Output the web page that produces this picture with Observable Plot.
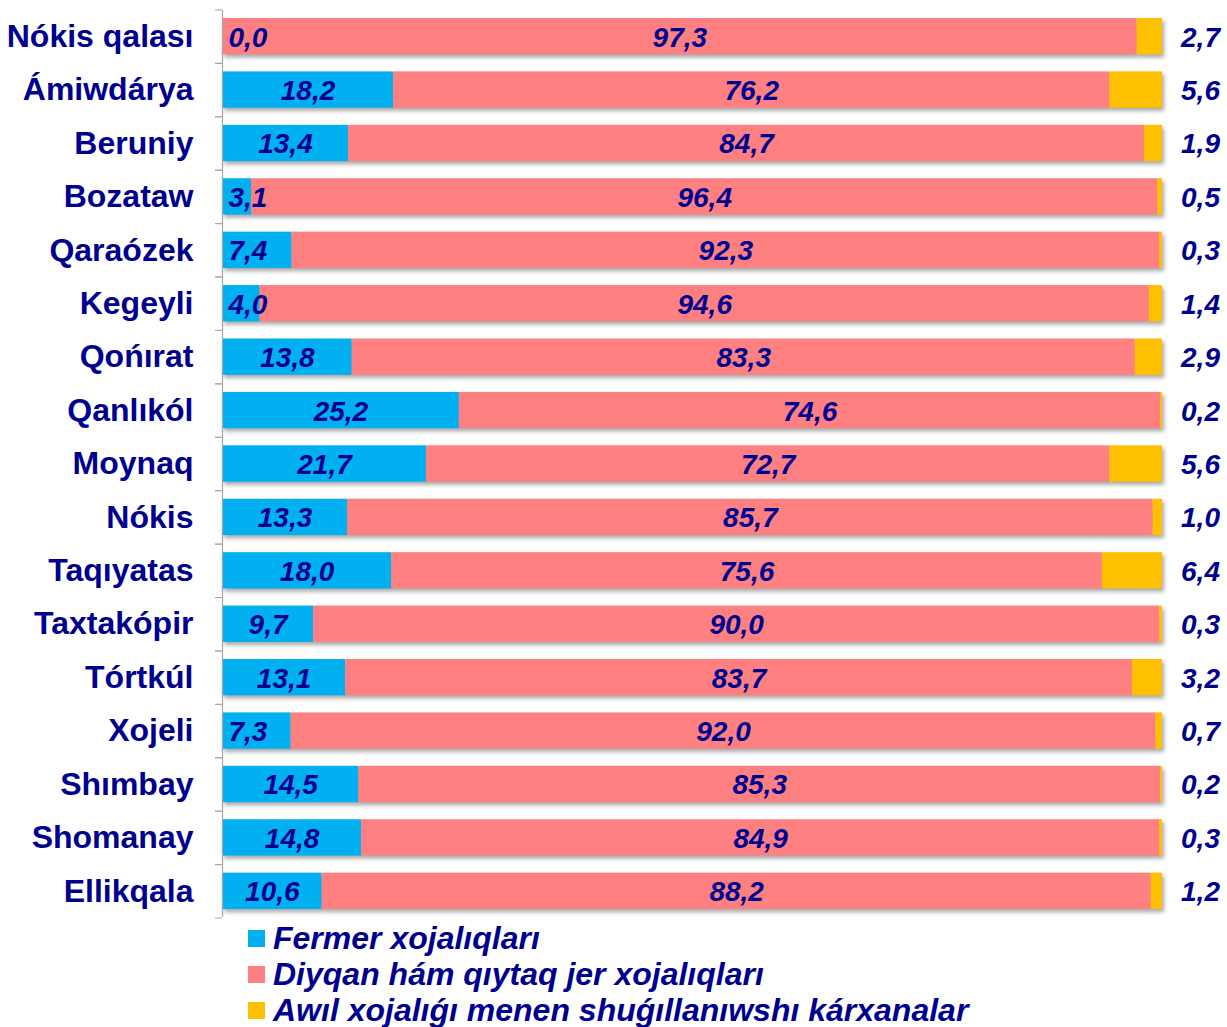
<!DOCTYPE html>
<html><head><meta charset="utf-8">
<script src="https://cdn.jsdelivr.net/npm/d3@7"></script>
<script src="https://cdn.jsdelivr.net/npm/@observablehq/plot@0.6"></script>
<style>
body{margin:0;background:#fff;font-family:"Liberation Sans",Arial,sans-serif;overflow:hidden;}
#chart svg{display:block;}
#legend{margin-left:248px;margin-top:-5px;}
.item{display:flex;align-items:center;height:36px;font:italic bold 32px "Liberation Sans",Arial,sans-serif;color:#000090;white-space:nowrap;}
.sw{width:17px;height:17px;margin-right:8px;flex:none;}
</style></head><body><div id="chart"></div><div id="legend"></div>
<script>
const categories = ["Nókis qalası","Ámiwdárya","Beruniy","Bozataw","Qaraózek","Kegeyli","Qońırat","Qanlıkól","Moynaq","Nókis","Taqıyatas","Taxtakópir","Tórtkúl","Xojeli","Shımbay","Shomanay","Ellikqala"];
const fermer = [0.0,18.2,13.4,3.1,7.4,4.0,13.8,25.2,21.7,13.3,18.0,9.7,13.1,7.3,14.5,14.8,10.6];
const diyqan = [97.3,76.2,84.7,96.4,92.3,94.6,83.3,74.6,72.7,85.7,75.6,90.0,83.7,92.0,85.3,84.9,88.2];
const awil   = [2.7,5.6,1.9,0.5,0.3,1.4,2.9,0.2,5.6,1.0,6.4,0.3,3.2,0.7,0.2,0.3,1.2];
const seriesNames = ["Fermer xojalıqları","Diyqan hám qıytaq jer xojalıqları","Awıl xojalıǵı menen shuǵıllanıwshı kárxanalar"];
const colors = ["#00B0F0","#FF8080","#FFC000"];

const seriesVals = [fermer, diyqan, awil];
const rows = [];
categories.forEach((c,i)=>{
  let x1 = 0;
  seriesVals.forEach((vals,s)=>{
    rows.push({cat:c, series:seriesNames[s], s, value:vals[i], x1, x2:x1+vals[i]});
    x1 += vals[i];
  });
});
const fmt = v => d3.format(".1f")(v).replace(".", ",");
const txt = "#000090";
const H = 925, MT = 10, MB = 8;
const PI = 0.32, PO = 0.15;
const step = (H - MT - MB) / (categories.length - PI + 2*PO);
const labelStyle = {fontSize:28, fontWeight:"bold", fontStyle:"italic", fill:txt, fontFamily:"Liberation Sans, Arial, sans-serif"};

const blueMid = rows.filter(d=>d.s===0 && d.value>=8);
const blueLeft = rows.filter(d=>d.s===0 && d.value<8);
const pink = rows.filter(d=>d.s===1);
const yellow = rows.filter(d=>d.s===2);

const plot = Plot.plot({
  width:1227, height:H, marginLeft:222, marginRight:65, marginTop:MT, marginBottom:MB,
  style:{fontFamily:"Liberation Sans, Arial, sans-serif", background:"#fff"},
  x:{domain:[0,100], axis:null},
  y:{domain:categories, paddingInner:PI, paddingOuter:PO, round:false, label:null, axis:null},
  color:{domain:seriesNames, range:colors},
  marks:[
    Plot.barX(rows, {x1:"x1", x2:"x2", y:"cat", fill:"series"}),
    Plot.ruleX([0], {stroke:"#a6a6a6", strokeWidth:1.2}),
    Plot.axisY({tickSize:0, tickPadding:29, fontSize:32, fontWeight:"bold", fill:txt}),
    Plot.axisY({tickSize:7, tickFormat:()=>"", dy:-step/2, stroke:"#a6a6a6"}),
    Plot.axisY({tickSize:7, tickFormat:()=>"", dy:step/2, stroke:"#a6a6a6"}),
    Plot.text(blueMid, {x:d=>(d.x1+d.x2)/2, y:"cat", text:d=>fmt(d.value), dy:1, ...labelStyle}),
    Plot.text(blueLeft, {x:0, y:"cat", text:d=>fmt(d.value), textAnchor:"start", dx:6, dy:1, ...labelStyle}),
    Plot.text(pink, {x:d=>(d.x1+d.x2)/2, y:"cat", text:d=>fmt(d.value), dy:1, ...labelStyle}),
    Plot.text(yellow, {x:100, y:"cat", text:d=>fmt(d.value), dx:38, dy:1, ...labelStyle})
  ]
});
d3.select(plot).selectAll('g[aria-label="bar"]').style("filter","drop-shadow(2px 3px 2px rgba(0,0,0,0.35))");
d3.select(plot).selectAll('g[aria-label="y-axis tick label"] text').attr("fill", txt);
document.getElementById("chart").appendChild(plot);

const leg = d3.select("#legend");
seriesNames.forEach((n,i)=>{
  const it = leg.append("div").attr("class","item");
  it.append("div").attr("class","sw").style("background", colors[i]);
  it.append("span").text(n);
});
</script></body></html>
